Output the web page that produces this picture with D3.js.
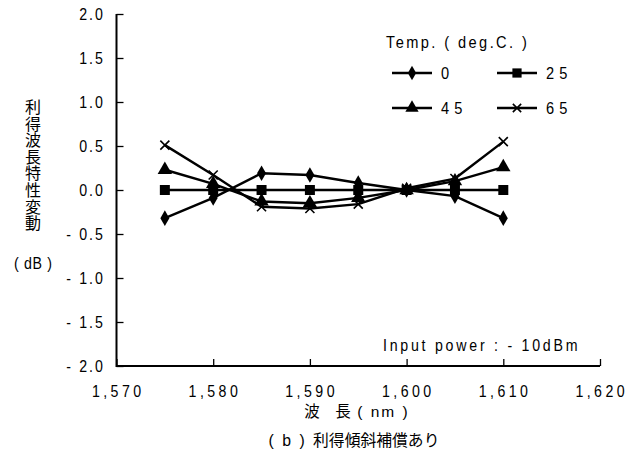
<!DOCTYPE html>
<html>
<head>
<meta charset="utf-8">
<script src="https://cdn.jsdelivr.net/npm/d3@7"></script>
<style>
  html, body { margin: 0; padding: 0; background: #fff; }
  svg { display: block; }
</style>
</head>
<body>
<div id="chart"></div>
<script>
// Wavelengths (nm) and gain-profile change (dB) per temperature
const wavelengths = [1575, 1580, 1585, 1590, 1595, 1600, 1605, 1610];
const temp0  = [-0.32, -0.09, 0.19, 0.17, 0.08, 0.00, -0.07, -0.32];
const temp25 = [0.00, 0.00, 0.00, 0.00, 0.00, 0.00, 0.00, 0.00];
const temp45 = [0.23, 0.07, -0.13, -0.15, -0.09, 0.00, 0.10, 0.26];
const temp65 = [0.51, 0.17, -0.19, -0.21, -0.16, 0.02, 0.13, 0.55];
const seriesNames = ["0", "25", "45", "65"];
const xTicks = [1570, 1580, 1590, 1600, 1610, 1620];
const yTicks = [2.0, 1.5, 1.0, 0.5, 0.0, -0.5, -1.0, -1.5, -2.0];
const yTitle = "利得波長特性変動";

const W = 630, H = 452;
const LATIN = "'Liberation Sans', Arial, sans-serif";
const CJK = "'Noto Sans CJK JP', 'Noto Sans CJK SC', sans-serif";
const SX = 0.86;   // narrow latin glyphs
const FS = 16.5;

const svg = d3.select("#chart").append("svg")
  .attr("width", W).attr("height", H);

const x = d3.scaleLinear().domain([1570, 1620]).range([116.5, 600]);
const y = d3.scaleLinear().domain([-2, 2]).range([366, 14]);

// text helper: condensed latin text with letter spacing
function label(str, px, py, opts = {}) {
  const ls = opts.ls ?? 2;
  const anchor = opts.anchor ?? "start";
  const fs = opts.fs ?? FS;
  const sx = opts.sx ?? SX;
  const shift = anchor === "middle" ? ls / 2 : anchor === "end" ? ls : 0;
  return svg.append("text")
    .attr("transform", `translate(${px},${py}) scale(${sx},1)`)
    .attr("x", shift)
    .attr("text-anchor", anchor)
    .attr("font-family", opts.font ?? LATIN)
    .attr("font-size", fs)
    .attr("letter-spacing", ls)
    .attr("fill", "#000")
    .text(str);
}

// axes
const yAxis = d3.axisRight(y).tickValues(yTicks).tickSize(7).tickFormat("");
const gy = svg.append("g").attr("transform", `translate(${x.range()[0]},0)`).call(yAxis);
const xAxis = d3.axisTop(x).tickValues(xTicks).tickSize(7).tickFormat("");
const gx = svg.append("g").attr("transform", `translate(0,${y(-2)})`).call(xAxis);
[gx, gy].forEach(g => {
  g.select(".domain").remove();
  g.selectAll(".tick line").attr("stroke", "#000").attr("stroke-width", 1.3);
});
svg.append("path")
  .attr("d", `M${x(1570)},${y(2)}V${y(-2)}H${x(1620)}`)
  .attr("fill", "none").attr("stroke", "#000").attr("stroke-width", 2);

// tick labels
const fmtY = v => (v < 0 ? "- " : "") + Math.abs(v).toFixed(1);
yTicks.forEach(v => label(fmtY(v), 103, y(v) + 6, { anchor: "end", ls: 2.4 }));
xTicks.forEach(v => label(d3.format(",")(v), x(v), 397, { anchor: "middle", ls: 4 }));

// vertical y-axis title
svg.append("text")
  .attr("x", 33).attr("y", 99)
  .attr("writing-mode", "vertical-rl")
  .attr("font-family", CJK).attr("font-size", 16)
  .attr("letter-spacing", 0.6)
  .attr("fill", "#000").text(yTitle);
label("( dB )", 33, 269, { anchor: "middle", ls: 0.8 });

const xt = svg.append("text").attr("x", 357).attr("y", 417)
  .attr("text-anchor", "middle").attr("font-family", CJK)
  .attr("font-size", 15.5).attr("fill", "#000");
xt.append("tspan").text("波　長");
xt.append("tspan").attr("font-family", LATIN).attr("letter-spacing", 2).text(" ( nm )");

const cap = svg.append("text").attr("x", 354).attr("y", 446)
  .attr("text-anchor", "middle").attr("font-family", CJK)
  .attr("font-size", 15.8).attr("fill", "#000");
cap.append("tspan").attr("font-family", LATIN).attr("letter-spacing", 2).text("( b ) ");
cap.append("tspan").text("利得傾斜補償あり");

label("Input power :  - 10dBm", 383, 351, { ls: 3.2 });

// markers
const symbols = [d3.symbolDiamond, d3.symbolSquare, d3.symbolTriangle, d3.symbolX];
const symSize = [70, 100, 90, 55];
function marker(g, i, cx, cy, scale = 1) {
  const p = g.append("path")
    .attr("transform", `translate(${cx},${cy})`)
    .attr("d", d3.symbol().type(symbols[i]).size(symSize[i] * scale)());
  if (symbols[i] === d3.symbolX) p.attr("fill", "none").attr("stroke", "#000").attr("stroke-width", 1.6);
  else p.attr("fill", "#000");
}

// series
const series = [temp0, temp25, temp45, temp65];
const line = d3.line().x(d => x(d[0])).y(d => y(d[1]));
series.forEach((vals, i) => {
  const pts = wavelengths.map((w, k) => [w, vals[k]]);
  const g = svg.append("g");
  g.append("path").attr("d", line(pts)).attr("fill", "none")
    .attr("stroke", "#000").attr("stroke-width", 2.4);
  pts.forEach(p => marker(g, i, x(p[0]), y(p[1])));
});

// legend
label("Temp. ( deg.C. )", 386, 48, { ls: 2.8, fs: 17 });
const legPos = [[392, 73], [497, 73], [392, 108], [497, 108]];
seriesNames.forEach((n, i) => {
  const [lx, ly] = legPos[i];
  const g = svg.append("g");
  g.append("line").attr("x1", lx).attr("x2", lx + 40).attr("y1", ly).attr("y2", ly)
    .attr("stroke", "#000").attr("stroke-width", 2.4);
  marker(g, i, lx + 20, ly, 0.85);
  label(n, lx + 49, ly + 6, { ls: 6, fs: 17 });
});
</script>
</body>
</html>
